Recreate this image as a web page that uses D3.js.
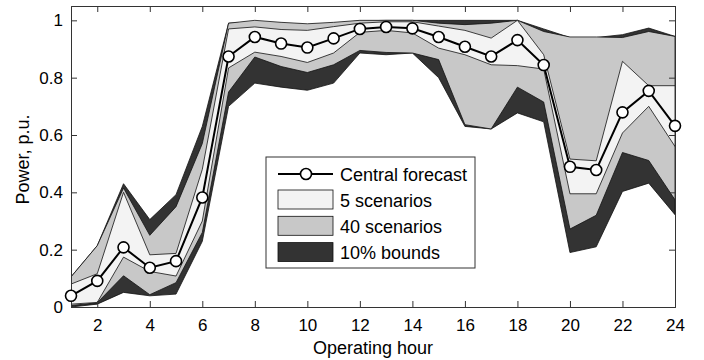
<!DOCTYPE html>
<html>
<head>
<meta charset="utf-8">
<script src="https://cdn.jsdelivr.net/npm/d3@7"></script>
<style>
  body { margin: 0; background: #fff; }
  svg text { font-family: "Liberation Sans", Arial, Helvetica, sans-serif; fill: #000; }
</style>
</head>
<body>
<div id="chart"></div>
<script>
// Operating hours
var hours = [1,2,3,4,5,6,7,8,9,10,11,12,13,14,15,16,17,18,19,20,21,22,23,24];

// Central forecast (p.u.)
var central = [0.039,0.091,0.208,0.137,0.160,0.382,0.874,0.942,0.919,0.905,0.937,0.970,
               0.977,0.972,0.942,0.908,0.874,0.931,0.844,0.489,0.478,0.679,0.754,0.632];

// 5 scenarios envelope
var fiveLo = [0.010,0.016,0.174,0.124,0.108,0.300,0.834,0.889,0.874,0.853,0.886,0.958,
              0.965,0.956,0.903,0.880,0.845,0.842,0.830,0.395,0.395,0.607,0.700,0.560];
var fiveHi = [0.080,0.116,0.400,0.182,0.187,0.480,0.970,0.977,0.968,0.965,0.978,0.990,
              0.995,0.995,0.980,0.965,0.938,1.000,0.880,0.516,0.510,0.857,0.772,0.772];

// 40 scenarios envelope
var fortyLo = [0.005,0.015,0.109,0.043,0.085,0.260,0.750,0.872,0.839,0.818,0.845,0.895,
               0.888,0.886,0.863,0.636,0.621,0.767,0.715,0.272,0.320,0.539,0.511,0.374];
var fortyHi = [0.105,0.214,0.415,0.250,0.350,0.570,0.990,1.000,0.993,0.988,0.993,1.000,
               1.000,1.000,0.990,0.985,0.990,1.000,0.961,0.942,0.942,0.940,0.961,0.944];

// 10% bounds
var boundLo = [0.000,0.010,0.051,0.039,0.045,0.229,0.700,0.781,0.767,0.756,0.781,0.886,
               0.880,0.886,0.800,0.630,0.621,0.677,0.646,0.190,0.210,0.403,0.432,0.322];
var boundHi = [0.105,0.214,0.430,0.305,0.392,0.630,0.990,0.995,0.990,0.985,0.990,0.998,
               1.000,1.000,1.000,1.000,1.000,1.000,0.970,0.940,0.940,0.950,0.973,0.944];

var xTicks = [2,4,6,8,10,12,14,16,18,20,22,24];
var yTicks = [0,0.2,0.4,0.6,0.8,1];

var width = 704, height = 360;
var margin = { left: 71, right: 29, top: 6, bottom: 53 };
var plotW = width - margin.left - margin.right;
var plotH = height - margin.top - margin.bottom;

var svg = d3.select("#chart").append("svg")
    .attr("width", width)
    .attr("height", height);

var x = d3.scaleLinear().domain([1, 24]).range([0, plotW]);
var y = d3.scaleLinear().domain([0, 1.05]).range([plotH, 0]);

var g = svg.append("g")
    .attr("transform", "translate(" + margin.left + "," + margin.top + ")");

g.append("clipPath").attr("id", "clip")
  .append("rect").attr("width", plotW).attr("height", plotH);

// bands, back to front
var bands = [
    { lo: boundLo, hi: boundHi, fill: "#333333" },
    { lo: fortyLo, hi: fortyHi, fill: "#c8c8c8" },
    { lo: fiveLo, hi: fiveHi, fill: "#f3f3f3" }
];

var area = d3.area()
    .x(function(d) { return x(d.h); })
    .y0(function(d) { return y(d.lo); })
    .y1(function(d) { return y(d.hi); });

var plot = g.append("g").attr("clip-path", "url(#clip)");

bands.forEach(function(b) {
    var pts = hours.map(function(h, i) { return { h: h, lo: b.lo[i], hi: b.hi[i] }; });
    plot.append("path")
        .datum(pts)
        .attr("d", area)
        .attr("fill", b.fill)
        .attr("stroke", "#111")
        .attr("stroke-width", 0.8)
        .attr("stroke-linejoin", "miter");
});

// axes (ticks inside, box all round)
var tickLen = 6;
var xAxis = g.append("g").attr("transform", "translate(0," + plotH + ")")
    .call(d3.axisBottom(x).tickValues(xTicks).tickSize(-tickLen).tickPadding(12));
var xAxisTop = g.append("g")
    .call(d3.axisTop(x).tickValues(xTicks).tickSize(-tickLen).tickFormat(""));
var yAxis = g.append("g")
    .call(d3.axisLeft(y).tickValues(yTicks).tickSize(-tickLen).tickPadding(8)
        .tickFormat(function(d) { return d === 0 || d === 1 ? d3.format("d")(d) : d3.format(".1f")(d); }));
var yAxisRight = g.append("g").attr("transform", "translate(" + plotW + ",0)")
    .call(d3.axisRight(y).tickValues(yTicks).tickSize(-tickLen).tickFormat(""));

[xAxis, xAxisTop, yAxis, yAxisRight].forEach(function(a) {
    a.select(".domain").attr("stroke", "#333").attr("stroke-width", 1);
    a.selectAll(".tick line").attr("stroke", "#333");
    a.selectAll("text").attr("font-size", "17px")
        .attr("font-family", "Liberation Sans, Arial, sans-serif").attr("fill", "#000");
});

// central forecast line + markers (not clipped, markers sit over the box)
var line = d3.line()
    .x(function(d, i) { return x(hours[i]); })
    .y(function(d) { return y(d); });

g.append("path")
    .datum(central)
    .attr("d", line)
    .attr("fill", "none")
    .attr("stroke", "#000")
    .attr("stroke-width", 2);

g.selectAll(".dot")
    .data(central)
    .enter().append("circle")
    .attr("class", "dot")
    .attr("cx", function(d, i) { return x(hours[i]); })
    .attr("cy", function(d) { return y(d); })
    .attr("r", 5.5)
    .attr("fill", "#fff")
    .attr("stroke", "#000")
    .attr("stroke-width", 1.6);

// axis labels
svg.append("text")
    .attr("x", margin.left + plotW / 2)
    .attr("y", 354)
    .attr("text-anchor", "middle")
    .attr("font-size", "18px")
    .text("Operating hour");

svg.append("text")
    .attr("transform", "translate(29," + (margin.top + plotH / 2 + 3) + ") rotate(-90)")
    .attr("text-anchor", "middle")
    .attr("font-size", "18px")
    .text("Power, p.u.");

// legend
var legend = svg.append("g").attr("transform", "translate(266,157)");
legend.append("rect")
    .attr("width", 209).attr("height", 111)
    .attr("fill", "#fff").attr("stroke", "#333").attr("stroke-width", 1);

legend.append("line")
    .attr("x1", 12).attr("x2", 67).attr("y1", 17).attr("y2", 17)
    .attr("stroke", "#000").attr("stroke-width", 2);
legend.append("circle")
    .attr("cx", 40).attr("cy", 17).attr("r", 5.5)
    .attr("fill", "#fff").attr("stroke", "#000").attr("stroke-width", 1.6);
legend.append("text").attr("x", 74).attr("y", 23.5).attr("font-size", "18px").text("Central forecast");

var legendItems = [
    { label: "5 scenarios", fill: "#f3f3f3" },
    { label: "40 scenarios", fill: "#c8c8c8" },
    { label: "10% bounds", fill: "#333333" }
];
legendItems.forEach(function(item, i) {
    var top = 33 + i * 26.3;
    legend.append("rect")
        .attr("x", 12).attr("y", top).attr("width", 55).attr("height", 19)
        .attr("fill", item.fill).attr("stroke", "#111").attr("stroke-width", 0.8);
    legend.append("text").attr("x", 74).attr("y", top + 16.5)
        .attr("font-size", "18px").text(item.label);
});
</script>
</body>
</html>
